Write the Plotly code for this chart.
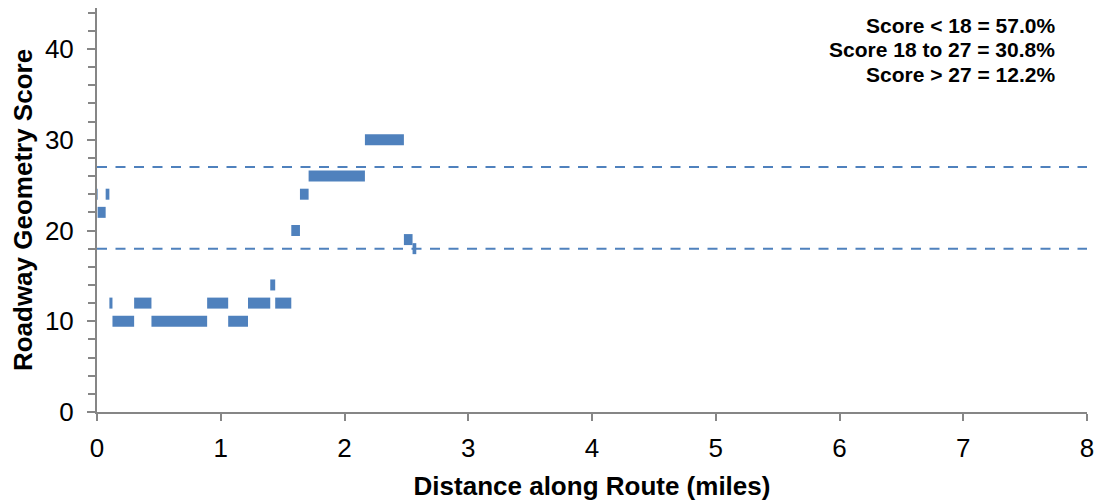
import plotly.graph_objects as go

# Route segments: breakpoints (miles) and the score held over each segment
breakpoints = [0.0, 0.005, 0.07, 0.10, 0.125, 0.30, 0.44, 0.89, 1.06, 1.22,
               1.40, 1.44, 1.57, 1.64, 1.71, 2.165, 2.48, 2.55, 2.58]
scores = [24, 22, 24, 12, 10, 12, 10, 12, 10, 12, 14, 12, 20, 24, 26, 30, 19, 18]

thresholds = [18, 27]
x_extent = [0, 8]

summary_lines = ["Score < 18 = 57.0%", "Score 18 to 27 = 30.8%", "Score > 27 = 12.2%"]

x_ticks = [0, 1, 2, 3, 4, 5, 6, 7, 8]
y_ticks = [0, 10, 20, 30, 40]

BLUE = "#4F81BD"
AXIS = "#868686"
FONT = "Arial, Liberation Sans, sans-serif"

# page offset of the default 8px body margin
OFF = 8
PL, PR, PT, PB = 97, 1087, 8, 412   # plot area in page pixels
y_top = (PB - PT) / ((PB - 49) / 40.0)  # keep data scale (40 at page y 49)

seg_x, seg_y = [], []
for i, s in enumerate(scores):
    seg_x += [breakpoints[i], breakpoints[i + 1], None]
    seg_y += [s, s, None]

fig = go.Figure()
for t in thresholds:
    fig.add_trace(go.Scatter(x=x_extent, y=[t, t], mode="lines",
                             line=dict(color=BLUE, width=2, dash="10px,8.5px"),
                             hoverinfo="skip", showlegend=False))
fig.add_trace(go.Scatter(x=seg_x, y=seg_y, mode="lines",
                         line=dict(color=BLUE, width=11),
                         showlegend=False))

line_centers_px = [25, 49.5, 74]
for txt, cy in zip(summary_lines, line_centers_px):
    fig.add_annotation(xref="paper", yref="paper",
                       x=(1057 - PL) / (PR - PL),
                       y=(PB - cy) / (PB - PT),
                       xanchor="right", yanchor="middle", align="right",
                       text="<b>%s</b>" % txt, showarrow=False,
                       font=dict(family=FONT, size=21, color="black"))

W, H = 1102 - OFF, 501 - OFF
fig.update_layout(
    width=W, height=H,
    margin=dict(l=PL - OFF, r=W - (PR - OFF), t=PT - OFF, b=H - (PB - OFF)),
    paper_bgcolor="white", plot_bgcolor="white",
    font=dict(family=FONT, color="black"),
    showlegend=False,
)
fig.update_xaxes(
    range=[0, 8], tickvals=x_ticks, showgrid=False, zeroline=False,
    automargin=False,
    showline=True, linecolor=AXIS, linewidth=2,
    ticks="outside", ticklen=7, tickcolor=AXIS, tickwidth=2,
    tickfont=dict(size=26, family=FONT, color="black"),
    ticklabelstandoff=5,
    title=dict(text="<b>Distance along Route (miles)</b>",
               font=dict(size=26, family=FONT, color="black"), standoff=16),
)
fig.update_yaxes(
    range=[0, y_top], tickvals=y_ticks, showgrid=False, zeroline=False,
    automargin=False,
    showline=True, linecolor=AXIS, linewidth=2,
    ticks="outside", ticklen=8, tickcolor=AXIS, tickwidth=2,
    minor=dict(dtick=2, tick0=0, ticks="outside", ticklen=7, tickcolor=AXIS,
               tickwidth=2, showgrid=False),
    tickfont=dict(size=26, family=FONT, color="black"),
    ticklabelstandoff=8,
    title=dict(text="<b>Roadway Geometry Score</b>",
               font=dict(size=26, family=FONT, color="black"), standoff=7),
)

fig.write_html("out.html")
